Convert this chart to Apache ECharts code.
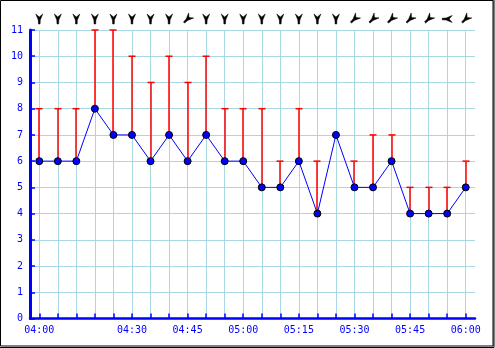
<!DOCTYPE html>
<html>
<head>
<meta charset="utf-8">
<script src="https://cdn.jsdelivr.net/npm/echarts@6/dist/echarts.min.js"></script>
<style>
  html, body { margin: 0; padding: 0; background: #fff; }
  #chart { width: 495px; height: 348px; }
</style>
</head>
<body>
<div id="chart"></div>
<script>
const categories = ['04:00','04:10','04:15','04:20','04:25','04:30','04:35','04:40','04:45','04:50','04:55','05:00',
                    '05:05','05:10','05:15','05:20','05:25','05:30','05:35','05:40','05:45','05:50','05:55','06:00'];
const tickLabels = ['04:00','04:30','04:45','05:00','05:15','05:30','05:45','06:00'];
const speed = [6,6,6,8,7,7,6,7,6,7,6,6,5,5,6,4,7,5,5,6,4,4,4,5];
const gust  = [8,8,8,11,11,10,9,10,9,10,8,8,8,6,8,6,7,6,7,7,5,5,5,6];
const windDir = [0,0,0,0,0,0,0,0,45,0,0,0,0,0,0,0,0,45,45,45,45,45,90,45];
const yTicks = [0,1,2,3,4,5,6,7,8,9,10,11];

const font = 'DejaVu Sans Mono';
const chart = echarts.init(document.getElementById('chart'), null, { renderer: 'canvas' });

const gustData = categories.map((c, i) => [i, speed[i], gust[i]]);
const windData = categories.map((c, i) => [i, windDir[i]]);

chart.setOption({
  animation: false,
  backgroundColor: '#fff',
  grid: { left: 30, right: 20, top: 30, bottom: 29.5, containLabel: false },
  xAxis: {
    type: 'category',
    data: categories,
    boundaryGap: true,
    axisLine: { show: true, lineStyle: { color: '#0000ff', width: 2.5 } },
    axisTick: { show: true, inside: true, length: 5, interval: 0, alignWithLabel: true,
                lineStyle: { color: '#0000ff', width: 1.5 } },
    axisLabel: {
      interval: (idx, val) => tickLabels.includes(val),
      color: '#0000ff', fontFamily: font, fontSize: 10, margin: 7
    },
    splitLine: { show: true, interval: 0, alignWithLabel: true, lineStyle: { color: '#a8d8e2', width: 1 } }
  },
  yAxis: {
    type: 'value',
    min: yTicks[0], max: yTicks[yTicks.length - 1], interval: 1,
    axisLine: { show: true, lineStyle: { color: '#0000ff', width: 3 } },
    axisTick: { show: true, inside: true, length: 5, lineStyle: { color: '#0000ff', width: 1.5 } },
    axisLabel: { color: '#0000ff', fontFamily: font, fontSize: 10, margin: 7 },
    splitLine: { show: true, lineStyle: { color: '#a8d8e2', width: 1 } }
  },
  graphic: [
    { type: 'rect', shape: { x: 0.5, y: 0.5, width: 492.5, height: 345.5 },
      style: { fill: 'none', stroke: '#000', lineWidth: 1 }, z: 100 },
    { type: 'polyline', shape: { points: [[494, 0], [494, 347.5], [0, 347.5]] },
      style: { stroke: '#000', lineWidth: 1 }, z: 100 }
  ],
  series: [
    {
      type: 'custom',
      name: 'gust',
      data: gustData,
      z: 3,
      renderItem: function (params, api) {
        const i = api.value(0), s = api.value(1), g = api.value(2);
        if (g <= s) return null;
        const p0 = api.coord([i, s]);
        const p1 = api.coord([i, g]);
        const x = Math.round(p0[0]);
        return {
          type: 'group',
          children: [
            { type: 'line', shape: { x1: x, y1: p0[1], x2: x, y2: p1[1] },
              style: { stroke: '#ff0000', lineWidth: 1.5 } },
            { type: 'line', shape: { x1: x - 3.5, y1: p1[1], x2: x + 3.5, y2: p1[1] },
              style: { stroke: '#ff0000', lineWidth: 1.5 } }
          ]
        };
      }
    },
    {
      type: 'line',
      name: 'speed',
      data: speed,
      z: 5,
      symbol: 'circle',
      symbolSize: 7,
      lineStyle: { color: '#0000ff', width: 1 },
      itemStyle: { color: '#0000ff', borderColor: '#000', borderWidth: 1 }
    },
    {
      type: 'custom',
      name: 'wind',
      data: windData,
      clip: false,
      z: 6,
      renderItem: function (params, api) {
        const i = api.value(0), d = api.value(1);
        const p = api.coord([i, yTicks[yTicks.length - 1]]);
        return {
          type: 'group',
          x: p[0], y: p[1] - 11,
          rotation: -d * Math.PI / 180,
          children: [
            { type: 'polygon',
              shape: { points: [[-3.5, -5], [0, -2], [3.5, -5], [1, 1], [0.8, 5], [-0.8, 5], [-1, 1]] },
              style: { fill: '#000', stroke: '#000', lineWidth: 0.5 } }
          ]
        };
      }
    }
  ]
});
</script>
</body>
</html>
